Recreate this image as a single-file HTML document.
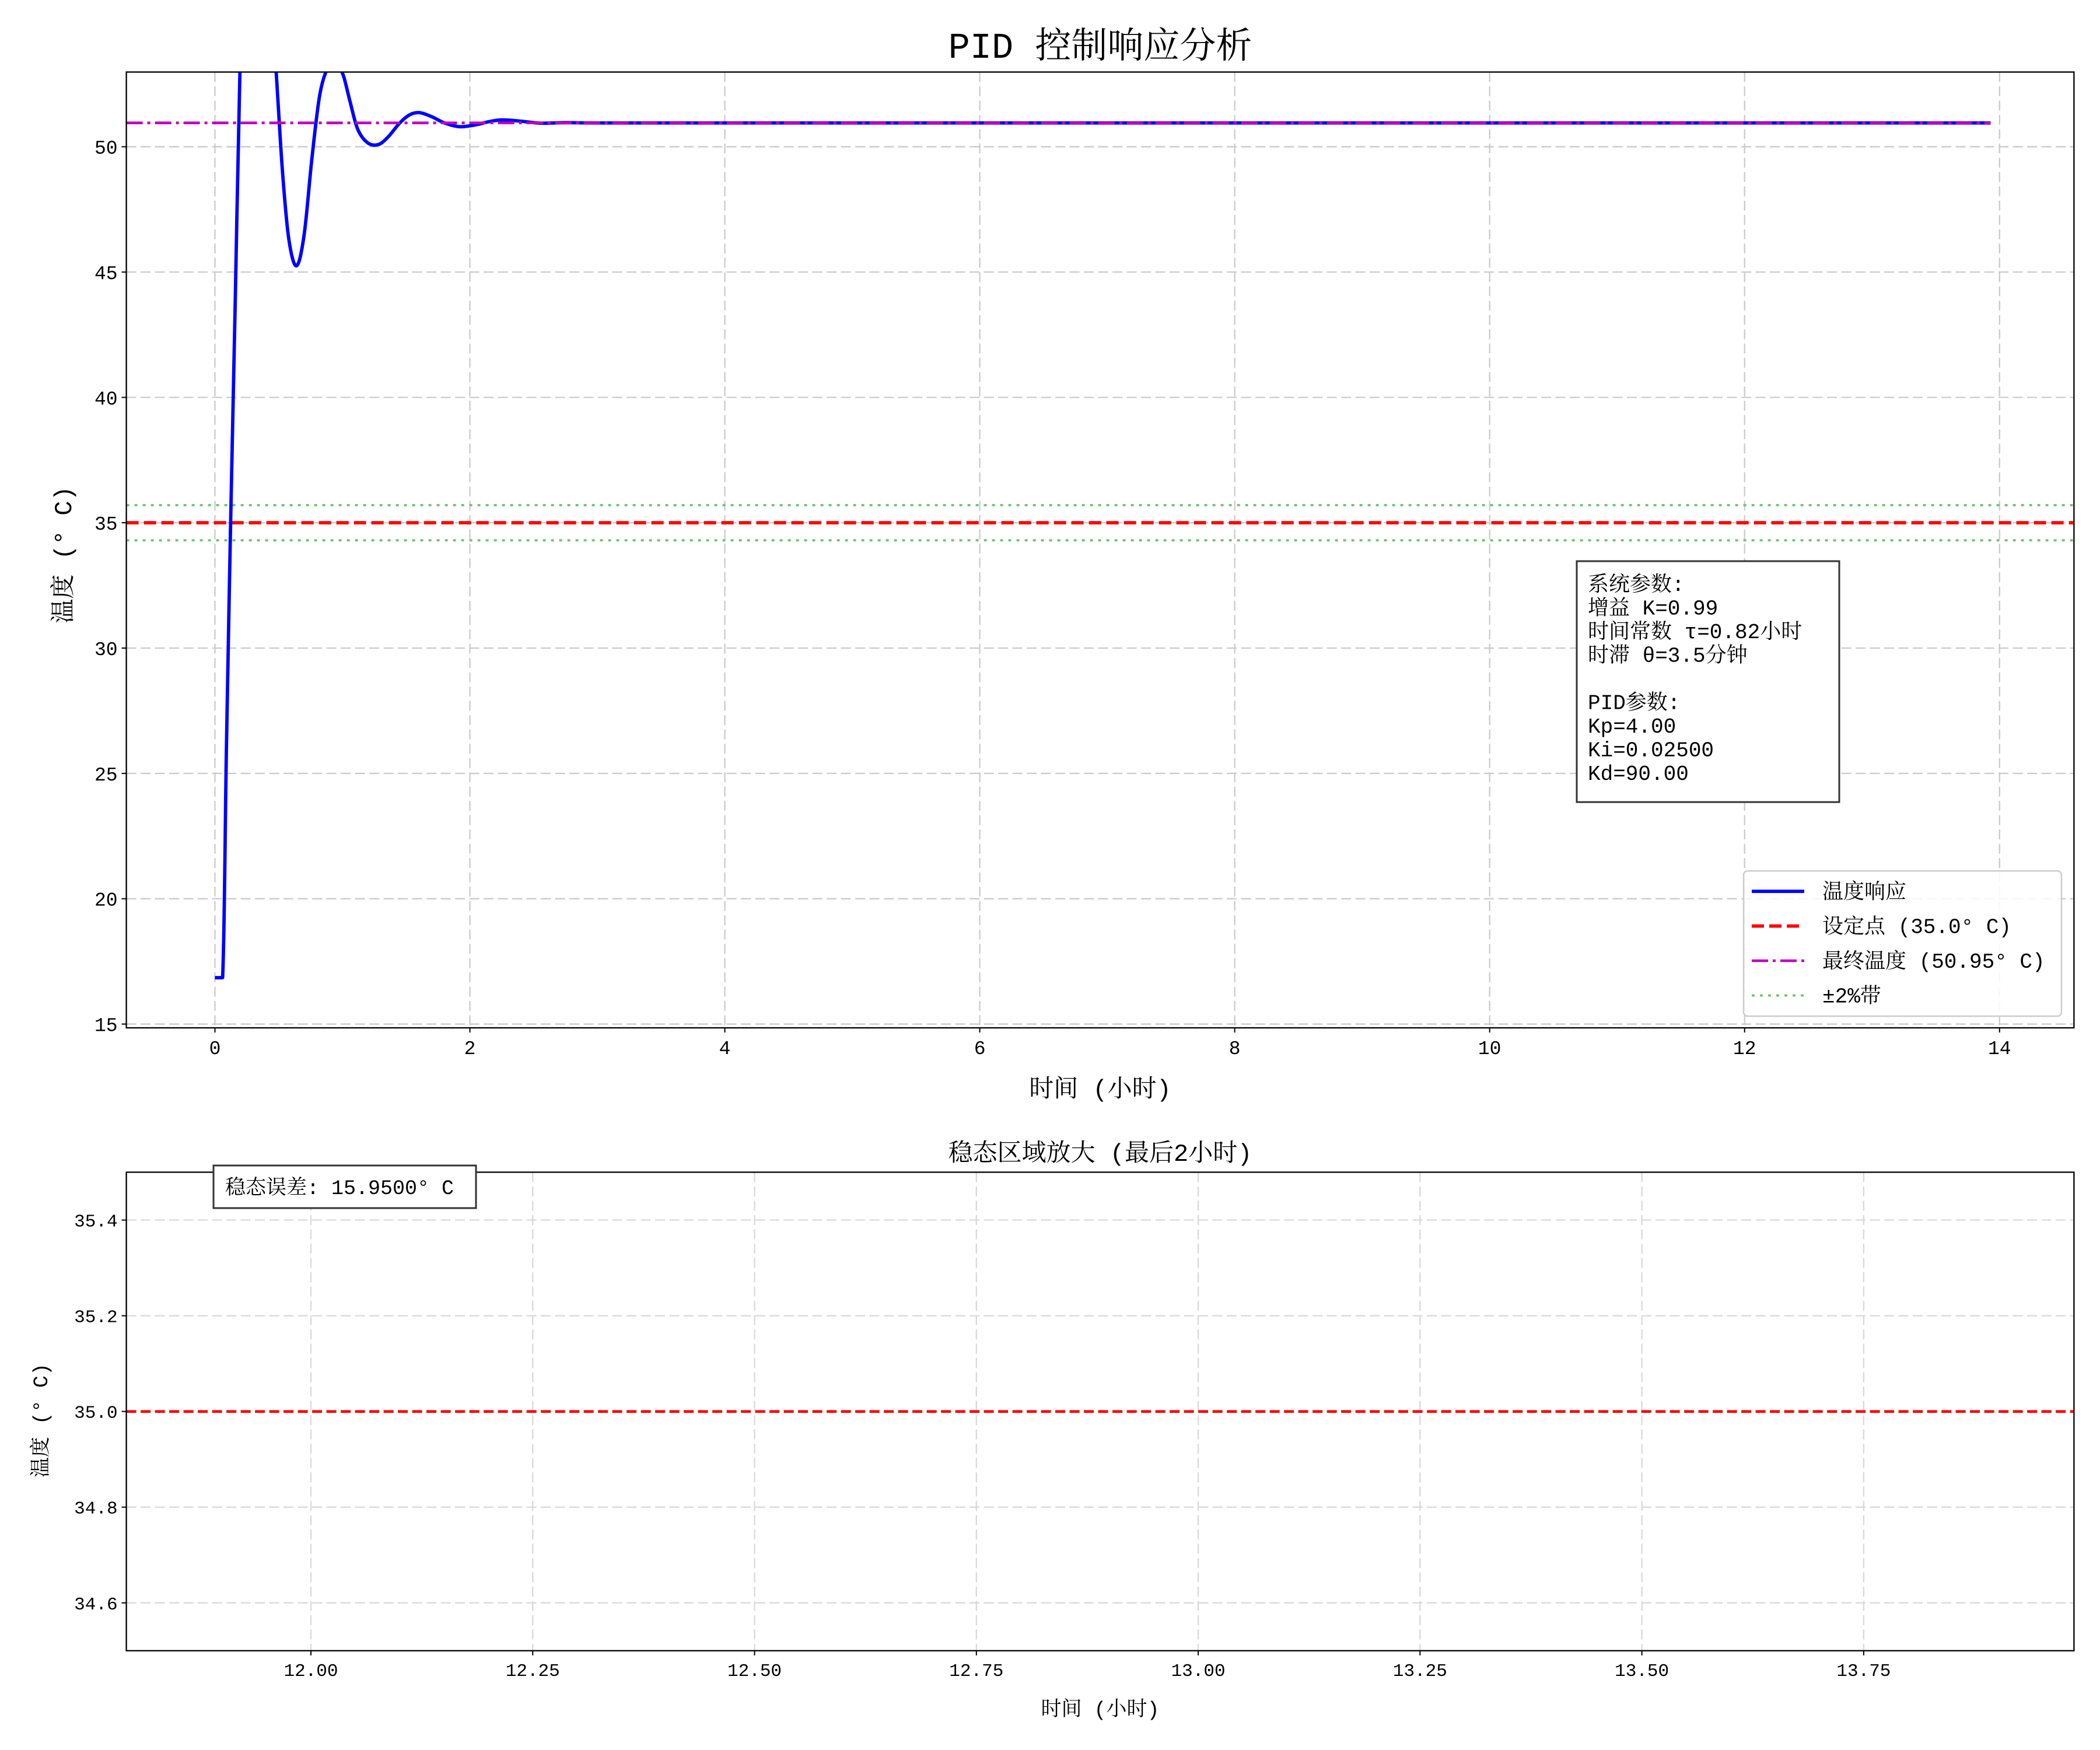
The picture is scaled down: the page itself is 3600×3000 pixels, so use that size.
<!DOCTYPE html>
<html><head><meta charset="utf-8"><style>
html,body{margin:0;padding:0;background:#fff}
svg{display:block}
text{font-family:"Liberation Mono","Noto Serif CJK SC",monospace;fill:#000}
</style></head><body>
<svg id="chart" width="3600" height="3000" viewBox="0 0 3600 3000" xmlns="http://www.w3.org/2000/svg">
<rect width="3600" height="3000" fill="#fff"/>
<g id="top"></g>
<g id="bot"></g>
</svg>
<script>
// ---- data ----
const respTime = [0,0.06,0.09,0.123,0.16,0.196,0.24,0.30,0.36,0.42,0.48,0.53,0.58,0.64,0.70,0.76,0.82,0.88,0.93,0.97,1.01,1.06,1.12,1.20,1.283,1.36,1.45,1.53,1.605,1.70,1.80,1.92,2.05,2.15,2.253,2.40,2.55,2.75,3.0,4,6,8,10,12,13.93];
const respTemp = [16.85,16.85,26,35,44,53,58.5,61,60.5,57.5,53,49,46.3,45.25,46.5,49.5,52,53.1,53.3,53.2,52.8,51.8,50.7,50.15,50.09,50.4,50.95,51.28,51.36,51.2,50.95,50.8,50.88,51.0,51.07,51.02,50.94,50.96,50.95,50.95,50.95,50.95,50.95,50.95,50.95];
const setpoint = 35.0;
const finalTemp = 50.95;
const bandPct = 0.02;
const topXTicks = [0,2,4,6,8,10,12,14];
const topYTicks = [15,20,25,30,35,40,45,50];
const botXTicks = [12.00,12.25,12.50,12.75,13.00,13.25,13.50,13.75];
const botYTicks = [34.6,34.8,35.0,35.2,35.4];
const paramLines = ["系统参数:","增益 K=0.99","时间常数 τ=0.82小时","时滞 θ=3.5分钟","","PID参数:","Kp=4.00","Ki=0.02500","Kd=90.00"];
const legendLabels = ["温度响应","设定点 (35.0° C)","最终温度 (50.95° C)","±2%带"];

const NS="http://www.w3.org/2000/svg";
function mk(parent,tag,attrs,txt){const e=document.createElementNS(NS,tag);for(const k in attrs)e.setAttribute(k,attrs[k]);if(txt!==undefined)e.textContent=txt;parent.appendChild(e);return e;}

function axes(g,box,xd,yd){
  const sx=v=>box.l+(v-xd[0])/(xd[1]-xd[0])*(box.r-box.l);
  const sy=v=>box.b-(v-yd[0])/(yd[1]-yd[0])*(box.b-box.t);
  return {sx,sy};
}
function smoothPath(xs,ys,sx,sy){
  const P=xs.map((x,i)=>[sx(x),sy(ys[i])]);
  let d=`M${P[0][0]},${P[0][1]} L${P[1][0]},${P[1][1]}`;
  for(let i=1;i<P.length-1;i++){
    const p0=P[i-1],p1=P[i],p2=P[i+1],p3=P[Math.min(i+2,P.length-1)];
    const c1=[p1[0]+(p2[0]-p0[0])/6,p1[1]+(p2[1]-p0[1])/6];
    const c2=[p2[0]-(p3[0]-p1[0])/6,p2[1]-(p3[1]-p1[1])/6];
    d+=` C${c1[0]},${c1[1]} ${c2[0]},${c2[1]} ${p2[0]},${p2[1]}`;
  }
  return d;
}

// ---- top axes ----
const T=document.getElementById('top');
const tb={l:216.6,r:3555.4,t:123.5,b:1762};
const A=axes(T,tb,[-0.695,14.584],[14.85,52.98]);
mk(T,'defs',{}).innerHTML='<clipPath id="ct"><rect x="216.6" y="123.5" width="3338.8" height="1638.5"/></clipPath><clipPath id="cb"><rect x="216.6" y="2009.5" width="3338.8" height="820.3"/></clipPath>';
const tg=mk(T,'g',{'clip-path':'url(#ct)'});

topXTicks.forEach(v=>{const l=mk(tg,'line',{x1:A.sx(v),x2:A.sx(v),y1:tb.t,y2:tb.b,stroke:'#cbcbcb','stroke-width':2.3,'stroke-dasharray':'17,7.5'});});
topYTicks.forEach(v=>{const l=mk(tg,'line',{x1:tb.l,x2:tb.r,y1:A.sy(v),y2:A.sy(v),stroke:'#cbcbcb','stroke-width':2.3,'stroke-dasharray':'17,7.5'});});
const dg=mk(T,'g',{'clip-path':'url(#ct)'});
const x1=A.sx(13.93);
let e;
e=mk(dg,'line',{x1:tb.l,x2:tb.r,y1:A.sy(setpoint*(1+bandPct)),y2:A.sy(setpoint*(1+bandPct)),stroke:'#7cc07c','stroke-width':4,'stroke-dasharray':'5,9'});

e=mk(dg,'line',{x1:tb.l,x2:tb.r,y1:A.sy(setpoint*(1-bandPct)),y2:A.sy(setpoint*(1-bandPct)),stroke:'#7cc07c','stroke-width':4,'stroke-dasharray':'5,9'});

e=mk(dg,'line',{x1:tb.l,x2:tb.r,y1:A.sy(setpoint),y2:A.sy(setpoint),stroke:'#ff0000','stroke-width':5.8,'stroke-dasharray':'21,9'});

e=mk(dg,'path',{d:smoothPath(respTime,respTemp,A.sx,A.sy),fill:'none',stroke:'#0000ff','stroke-width':5.8,'stroke-linejoin':'round'});

e=mk(dg,'line',{x1:tb.l,x2:x1,y1:A.sy(finalTemp),y2:A.sy(finalTemp),stroke:'#bf00bf','stroke-width':4.6,'stroke-dasharray':'28,8,5,8'});

e=mk(T,'rect',{x:tb.l,y:tb.t,width:tb.r-tb.l,height:tb.b-tb.t,fill:'none',stroke:'#000','stroke-width':2.3});

topXTicks.forEach(v=>{mk(T,'line',{x1:A.sx(v),x2:A.sx(v),y1:tb.b,y2:tb.b+8,stroke:'#000','stroke-width':2});
  e=mk(T,'text',{x:A.sx(v),y:tb.b+45,'font-size':33,'text-anchor':'middle'},String(v));});
topYTicks.forEach(v=>{mk(T,'line',{x1:tb.l-8,x2:tb.l,y1:A.sy(v),y2:A.sy(v),stroke:'#000','stroke-width':2});
  e=mk(T,'text',{x:tb.l-15,y:A.sy(v)+12,'font-size':33,'text-anchor':'end'},String(v));});
e=mk(T,'text',{x:1886,y:99,'font-size':62,'text-anchor':'middle'},'PID 控制响应分析');
e=mk(T,'text',{x:1886,y:1880,'font-size':42,'text-anchor':'middle'},'时间 (小时)');
e=mk(T,'text',{x:0,y:0,'font-size':42,'text-anchor':'middle',transform:'translate(122,951) rotate(-90)'},'温度 (° C)');
// param box
const pb=mk(T,'g',{});
mk(pb,'rect',{x:2703,y:962,width:450,height:413,fill:'#fff',stroke:'#333','stroke-width':3});
paramLines.forEach((s,i)=>{e=mk(pb,'text',{x:2722,y:1013+i*40.5,'font-size':36},s);});
// legend
const lg=mk(T,'g',{});
mk(lg,'rect',{x:2989,y:1493,width:545,height:249,rx:7,fill:'#fff','fill-opacity':0.85,stroke:'#cccccc','stroke-width':2.5});
const lstyles=[{stroke:'#0000ff',w:5.8,d:''},{stroke:'#ff0000',w:5.8,d:'21,9'},{stroke:'#bf00bf',w:4.6,d:'28,8,5,8'},{stroke:'#7cc07c',w:4,d:'5,9'}];
legendLabels.forEach((s,i)=>{const y=1528+i*59.5;const st=lstyles[i];
  const r=mk(lg,'g',{});
  mk(r,'line',{x1:3003,x2:3093,y1:y,y2:y,stroke:st.stroke,'stroke-width':st.w,'stroke-dasharray':st.d||'none'});
  mk(r,'text',{x:3124,y:y+12,'font-size':36},s);});

// ---- bottom axes ----
const B=document.getElementById('bot');
const bb={l:216.6,r:3555.4,t:2009.5,b:2829.8};
const C=axes(B,bb,[11.792,13.987],[34.5,35.5]);
const bg=mk(B,'g',{'clip-path':'url(#cb)'});
botXTicks.forEach(v=>{const l=mk(bg,'line',{x1:C.sx(v),x2:C.sx(v),y1:bb.t,y2:bb.b,stroke:'#d9d9d9','stroke-width':2.3,'stroke-dasharray':'17,7.5'});});
botYTicks.forEach(v=>{const l=mk(bg,'line',{x1:bb.l,x2:bb.r,y1:C.sy(v),y2:C.sy(v),stroke:'#d9d9d9','stroke-width':2.3,'stroke-dasharray':'17,7.5'});});
e=mk(bg,'line',{x1:bb.l,x2:bb.r,y1:C.sy(setpoint),y2:C.sy(setpoint),stroke:'#ff0000','stroke-width':4.6,'stroke-dasharray':'17,7.5'});

e=mk(bg,'line',{x1:bb.l,x2:bb.r,y1:C.sy(finalTemp),y2:C.sy(finalTemp),stroke:'#0000ff','stroke-width':4.6});

e=mk(B,'rect',{x:bb.l,y:bb.t,width:bb.r-bb.l,height:bb.b-bb.t,fill:'none',stroke:'#000','stroke-width':2.3});

botXTicks.forEach(v=>{mk(B,'line',{x1:C.sx(v),x2:C.sx(v),y1:bb.b,y2:bb.b+8,stroke:'#000','stroke-width':2});
  e=mk(B,'text',{x:C.sx(v),y:bb.b+43,'font-size':31,'text-anchor':'middle'},v.toFixed(2));});
botYTicks.forEach(v=>{mk(B,'line',{x1:bb.l-8,x2:bb.l,y1:C.sy(v),y2:C.sy(v),stroke:'#000','stroke-width':2});
  e=mk(B,'text',{x:bb.l-15,y:C.sy(v)+11,'font-size':31,'text-anchor':'end'},v.toFixed(1));});
e=mk(B,'text',{x:1886,y:1990,'font-size':42,'text-anchor':'middle'},'稳态区域放大 (最后2小时)');
e=mk(B,'text',{x:1886,y:2941,'font-size':35,'text-anchor':'middle'},'时间 (小时)');
e=mk(B,'text',{x:0,y:0,'font-size':35,'text-anchor':'middle',transform:'translate(81,2435) rotate(-90)'},'温度 (° C)');
const eb=mk(B,'g',{});
mk(eb,'rect',{x:366,y:1998,width:450,height:73,fill:'#fff',stroke:'#333','stroke-width':3});
mk(eb,'text',{x:386,y:2047,'font-size':35},'稳态误差: '+Math.abs(finalTemp-setpoint).toFixed(4)+'° C');
</script>
</body></html>
